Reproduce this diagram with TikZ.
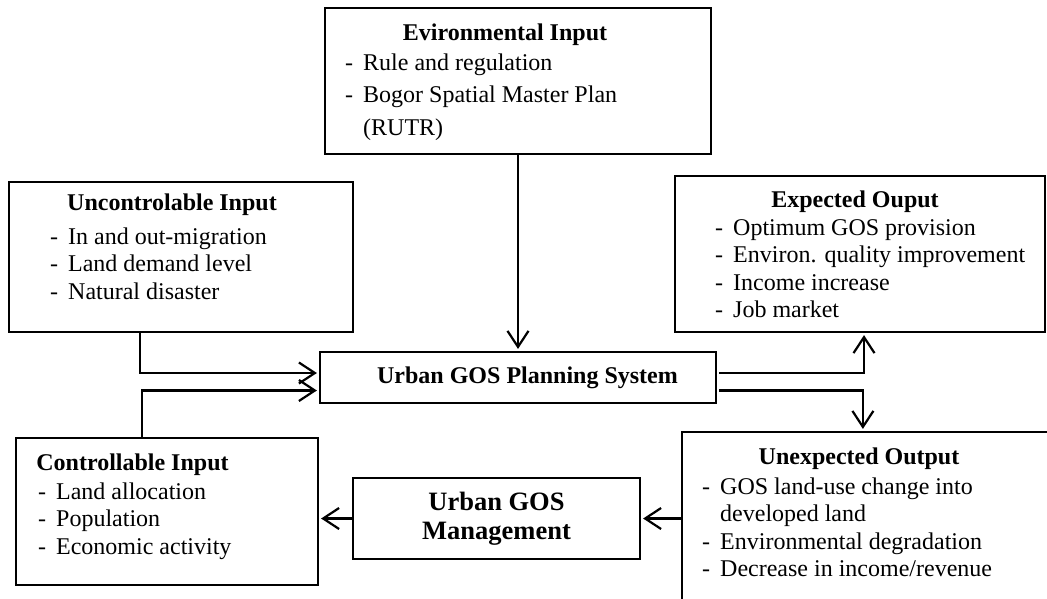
\documentclass[tikz,border=0pt]{standalone}
\usepackage{fontspec}
\setmainfont{Liberation Serif}
\usetikzlibrary{arrows.meta, calc}

\tikzset{
  box/.style={draw, rectangle, line width=2.2pt, inner sep=0pt},
  head/.style={font=\fontsize{24}{27.5}\selectfont\bfseries, anchor=base, inner sep=0pt},
  % multi-line lists sit on the baseline of their last line
  items/.style={font=\fontsize{24}{27.5}\selectfont, align=left, anchor=base west, inner sep=0pt},
  flow/.style={line width=2.2pt, -{Straight Barb[length=16pt, width=21pt]}, shorten >=2pt}
}
\newcommand{\itm}[1]{\makebox[18pt][l]{-}#1}
\newcommand{\cont}[1]{\hspace*{18pt}#1}

\begin{document}
\begin{tikzpicture}[x=1pt, y=-1pt]
    \useasboundingbox (0,0) rectangle (1047,598);
    \clip (0,0) rectangle (1047,598);

    % Environmental input (top)
    \node[box, minimum width=386pt, minimum height=146pt] (env) at (518,81) {};
    \node[head] (env-t) at (505,40) {Evironmental Input};
    \node[items, font=\fontsize{24}{32.5}\selectfont] (env-l) at (345,135)
        {\itm{Rule and regulation}\\\itm{Bogor Spatial Master Plan}\\\cont{(RUTR)}};

    % Uncontrollable input
    \node[box, minimum width=344pt, minimum height=150pt] (unctrl) at (181,257) {};
    \node[head] (unctrl-t) at (172,210) {Uncontrolable Input};
    \node[items] (unctrl-l) at (50,299)
        {\itm{In and out-migration}\\\itm{Land demand level}\\\itm{Natural disaster}};

    % Expected output
    \node[box, minimum width=370pt, minimum height=156pt] (expout) at (860,254) {};
    \node[head] (expout-t) at (855,207) {Expected Ouput};
    \node[items] (expout-l) at (715,317.5)
        {\itm{Optimum GOS provision}\\\itm{Environ. quality improvement}\\\itm{Income increase}\\\itm{Job market}};

    % Planning system (centre)
    \node[box, minimum width=396pt, minimum height=51pt] (plan) at (518,377.5) {};
    \node[font=\fontsize{24}{27.5}\selectfont\bfseries, inner sep=0pt] (plan-t) at (527.5,377.5) {Urban GOS Planning System};

    % Controllable input
    \node[box, minimum width=302pt, minimum height=147pt] (ctrl) at (167,511.5) {};
    \node[head] (ctrl-t) at (132.5,470) {Controllable Input};
    \node[items] (ctrl-l) at (38,554)
        {\itm{Land allocation}\\\itm{Population}\\\itm{Economic activity}};

    % Management
    \node[box, minimum width=287pt, minimum height=81pt, align=center,
          font=\fontsize{26.5}{29}\selectfont\bfseries] (mgmt) at (496.5,518.5) {Urban GOS\\Management};

    % Unexpected output (runs off the page)
    \node[box, minimum width=388pt, minimum height=180pt] (unexp) at (876,522) {};
    \node[head] (unexp-t) at (859,464) {Unexpected Output};
    \node[items] (unexp-l) at (702,576.5)
        {\itm{GOS land-use change into}\\\cont{developed land}\\\itm{Environmental degradation}\\\itm{Decrease in income/revenue}};

    % Flows
    \draw[flow] (env.south) -- (plan.north);
    \draw[flow] ($(unctrl.south west)+(132,0)$) |- ($(plan.west)+(0,-4.5)$);
    \draw[flow] ($(ctrl.north west)+(127,0)$) |- ($(plan.west)+(0,13)$);
    \draw[flow] ($(plan.east)+(2,-4.5)$) -| ($(expout.south)+(4,0)$);
    \draw[flow] ($(plan.east)+(2,13)$) -| ($(unexp.north west)+(182,0)$);
    \draw[flow] (unexp.west |- mgmt.east) -- (mgmt.east);
    \draw[flow] (mgmt.west) -- (mgmt.west -| ctrl.east);
\end{tikzpicture}
\end{document}
